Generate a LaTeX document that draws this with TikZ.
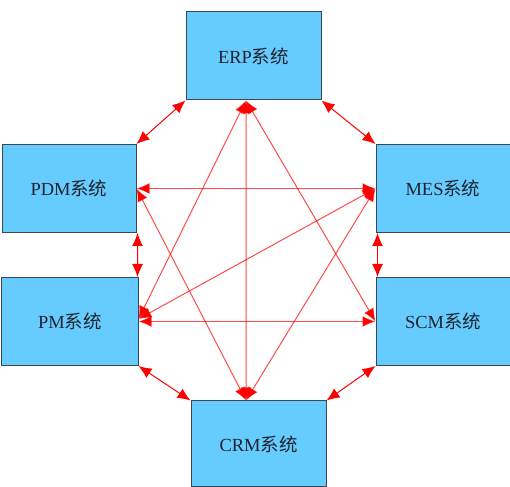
\documentclass[tikz,border=0pt]{standalone}
\usepackage{fontspec}
\setmainfont{Liberation Serif}
\newfontfamily\cjk{Noto Sans CJK SC}
\usetikzlibrary{arrows.meta}
\definecolor{boxblue}{RGB}{102,204,255}
\definecolor{boxline}{RGB}{60,70,80}
\definecolor{textdark}{RGB}{30,35,45}
\begin{document}
\begin{tikzpicture}[
    sysbox/.style={draw=boxline, fill=boxblue, line width=0.02cm, minimum width=2.70cm,
      minimum height=1.76cm, inner sep=0pt, text=textdark, font=\fontsize{10.5}{12}\selectfont},
    link/.style={draw=red, line width=0.02cm,
      {Latex[length=0.26cm,width=0.22cm]}-{Latex[length=0.26cm,width=0.22cm]}},
    crosslink/.style={link, draw opacity=0.7}
  ]
  \useasboundingbox (0,0) rectangle (10.2,9.74);

  % Drawing the six system boxes
  \node[sysbox] (ERP) at (5.07,8.62) {ERP{\cjk 系统}};
  \node[sysbox, minimum width=2.68cm] (PDM) at (1.38,5.97) {PDM{\cjk 系统}};
  \node[sysbox, minimum width=2.68cm] (MES) at (8.86,5.97) {MES{\cjk 系统}};
  \node[sysbox, minimum width=2.72cm] (PM) at (1.40,3.31) {PM{\cjk 系统}};
  \node[sysbox, minimum width=2.68cm] (SCM) at (8.86,3.31) {SCM{\cjk 系统}};
  \node[sysbox, minimum height=1.72cm] (CRM) at (5.17,0.86) {CRM{\cjk 系统}};

  % Marking points where the cross links meet ERP and CRM
  \coordinate (erpB) at ([xshift=-0.15cm]ERP.south);
  \coordinate (crmT) at ([xshift=-0.25cm]CRM.north);

  % Drawing links round the ring
  \draw[link] (ERP.south west) -- (PDM.north east);
  \draw[link] (ERP.south east) -- (MES.north west);
  \draw[link] ([xshift=0.02cm]PDM.south east) -- ([xshift=-0.02cm]PM.north east);
  \draw[link] ([xshift=0.04cm]MES.south west) -- ([xshift=0.04cm]SCM.north west);
  \draw[link] (PM.south east) -- (CRM.north west);
  \draw[link] (SCM.south west) -- (CRM.north east);

  % Drawing the cross links
  \draw[crosslink] (erpB) -- (crmT);
  \draw[crosslink] (erpB) -- ([yshift=0.05cm]PM.east);
  \draw[crosslink] (erpB) -- (SCM.west);
  \draw[crosslink] (PDM.east) -- (MES.west);
  \draw[crosslink] (PDM.east) -- (crmT);
  \draw[crosslink] (PM.east) -- (SCM.west);
  \draw[crosslink] ([yshift=0.05cm]PM.east) -- (MES.west);
  \draw[crosslink] (MES.west) -- (crmT);
\end{tikzpicture}
\end{document}
